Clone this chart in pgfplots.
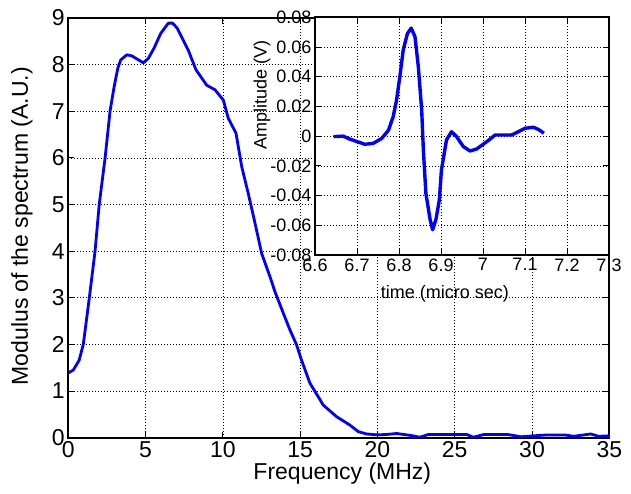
\documentclass[border=0pt]{standalone}
\usepackage{fontspec}
\setmainfont{Liberation Sans}
\usepackage{pgfplots}
\pgfplotsset{compat=1.18}
\definecolor{mblue}{RGB}{0,0,255}

\pgfplotstableread{
f      m
0      1.39
0.32   1.45
0.70   1.66
0.97   2.00
1.36   3.00
1.73   4.00
2.00   5.00
2.38   6.00
2.70   7.00
2.95   7.50
3.20   7.92
3.39   8.10
3.78   8.21
4.10   8.19
4.85   8.04
5.17   8.13
5.54   8.35
5.98   8.67
6.47   8.89
6.75   8.89
7.05   8.78
7.76   8.31
8.26   7.89
8.95   7.56
9.49   7.46
10.03  7.24
10.35  6.85
10.85  6.53
11.22  5.81
11.64  5.24
12.08  4.60
12.51  3.95
13.05  3.45
13.37  3.13
13.91  2.67
14.34  2.31
14.77  1.99
15.05  1.70
15.63  1.17
16.24  0.84
16.49  0.70
17.36  0.45
18.22  0.27
18.76  0.13
19.30  0.08
20.00  0.06
20.60  0.07
21.24  0.09
21.90  0.06
22.30  0.04
22.75  0.01
23.30  0.07
24.50  0.07
25.77  0.07
26.20  0.01
26.90  0.07
28.40  0.07
29.30  0.02
30.10  0.04
31.00  0.06
32.10  0.06
32.70  0.03
33.80  0.08
34.30  0.03
35.00  0.04
}\spectrum

\pgfplotstableread{
t      a
6.644  -0.0003
6.667   0.0000
6.683  -0.0020
6.719  -0.0055
6.739  -0.0048
6.759  -0.0015
6.775   0.0040
6.786   0.0130
6.794   0.0240
6.802   0.0400
6.810   0.0580
6.820   0.0690
6.829   0.0727
6.838   0.0670
6.846   0.0468
6.854   0.0176
6.858  -0.0093
6.864  -0.0385
6.874  -0.0560
6.880  -0.0630
6.888  -0.0560
6.896  -0.0430
6.901  -0.0228
6.913  -0.0026
6.925   0.0030
6.937  -0.0003
6.953  -0.0070
6.969  -0.0100
6.985  -0.0086
7.009  -0.0037
7.029   0.0008
7.048   0.0008
7.068   0.0008
7.080   0.0024
7.100   0.0053
7.120   0.0060
7.132   0.0045
7.145   0.0020
}\pulse

\begin{document}
\begin{tikzpicture}
\path[use as bounding box] (-68.3pt,-56.3pt) rectangle (562.7pt,437.7pt);
\pgfplotsset{
  matlab/.style={
    scale only axis, anchor=south west,
    grid=major,
    grid style={black, line width=0.7pt, dash pattern=on 0.9pt off 2.1pt},
    axis line style={line width=1.8pt},
    tick align=inside, major tick length=6pt,
    tick style={black, line width=0.8pt},
    xtick pos=both, ytick pos=both,
    scaled ticks=false,
    /pgf/number format/assume math mode=true,
  }
}
\begin{axis}[
  matlab, at={(0pt,0pt)},
  width=541pt, height=419.7pt,
  xmin=0, xmax=35, ymin=0, ymax=9,
  xtick={0,5,...,35}, ytick={0,1,...,9},
  ticklabel style={font=\fontsize{23}{27}\selectfont},
  xlabel={Frequency (MHz)},
  ylabel={Modulus of the spectrum (A.U.)},
  label style={font=\fontsize{23}{27}\selectfont},
  xlabel style={at={(axis description cs:0.5065,-0.0865)}, anchor=center},
  ylabel style={at={(axis description cs:-0.0856,0.504)}, anchor=center},
]
\addplot[mblue, line width=2.8pt, line join=round] table[x=f, y=m] {\spectrum};
\end{axis}

\begin{axis}[
  matlab, at={(246.7pt,182.7pt)},
  width=294pt, height=237.7pt,
  axis background/.style={fill=white},
  xmin=6.6, xmax=7.3, ymin=-0.08, ymax=0.08,
  xtick={6.6,6.7,6.8,6.9,7,7.1,7.2,7.3},
  xticklabels={6.6,6.7,6.8,6.9,7,7.1,7.2,7.3},
  ytick={-0.08,-0.06,-0.04,-0.02,0,0.02,0.04,0.06,0.08},
  yticklabels={-0.08,-0.06,-0.04,-0.02,0,0.02,0.04,0.06,0.08},
  ticklabel style={font=\fontsize{18}{21}\selectfont},
  xlabel={time (micro sec)},
  ylabel={Amplitude (V)},
  label style={font=\fontsize{18}{21}\selectfont},
  xlabel style={at={(axis description cs:0.442,-0.164)}, anchor=center},
  ylabel style={at={(axis description cs:-0.180,0.673)}, anchor=center},
]
\addplot[mblue, line width=3.4pt, line join=round] table[x=t, y=a] {\pulse};
\end{axis}
\end{tikzpicture}
\end{document}
